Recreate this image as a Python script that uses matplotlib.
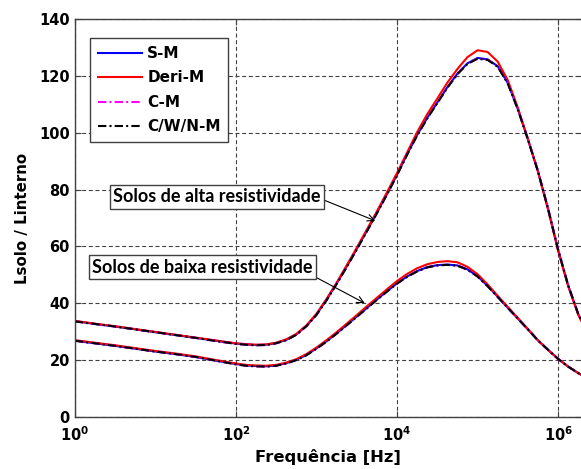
import numpy as np
import matplotlib
matplotlib.use("Agg")
import matplotlib.pyplot as plt
from matplotlib.ticker import NullLocator

plt.rcParams["font.family"] = "DejaVu Sans"
plt.rcParams["font.weight"] = "bold"
plt.rcParams["mathtext.fontset"] = "dejavusans"

# ── DONNÉES ─────────────────────────────────────────────────────────────────
log_f = [0.0, 0.25, 0.5, 0.75, 1.0, 1.25, 1.5, 1.75,
         2.0, 2.125, 2.25, 2.375, 2.5, 2.625, 2.75, 2.875,
         3.0, 3.125, 3.25, 3.375, 3.5, 3.625, 3.75, 3.875,
         4.0, 4.125, 4.25, 4.375, 4.5, 4.625, 4.75, 4.875,
         5.0, 5.125, 5.25, 5.375, 5.5, 5.625, 5.75, 5.875,
         6.0, 6.125, 6.25, 6.375, 6.5]
freq = 10.0 ** np.array(log_f)

# solos de alta resistividade
alta_sm   = [33.7, 32.7, 31.8, 30.8, 29.8, 28.8, 27.8, 26.8,
             25.8, 25.5, 25.3, 25.4, 26.0, 27.1, 29.0, 32.0,
             36.0, 41.2, 46.9, 52.9, 59.1, 65.4, 71.8, 78.4,
             85.2, 92.4, 99.2, 105.2, 110.6, 116.0, 120.8, 124.4,
             126.3, 125.8, 123.4, 117.5, 108.3, 97.7, 86.4, 73.2,
             58.7, 46.2, 36.1, 29.0, 24.0]
alta_deri = [33.8, 32.8, 31.9, 30.9, 29.9, 28.9, 27.9, 26.9,
             25.9, 25.6, 25.4, 25.5, 26.1, 27.3, 29.2, 32.2,
             36.3, 41.5, 47.2, 53.3, 59.5, 65.9, 72.3, 79.0,
             85.8, 93.0, 100.2, 106.5, 112.0, 117.6, 122.4, 126.6,
             129.0, 128.4, 125.0, 118.5, 108.8, 97.8, 86.3, 73.0,
             58.5, 46.0, 36.0, 29.0, 24.0]
alta_cm   = [33.6, 32.7, 31.8, 30.8, 29.8, 28.8, 27.8, 26.7,
             25.7, 25.4, 25.2, 25.3, 25.9, 27.0, 28.9, 31.9,
             35.9, 41.1, 46.8, 52.8, 59.0, 65.3, 71.7, 78.3,
             85.1, 92.3, 99.1, 105.1, 110.5, 115.9, 120.7, 124.3,
             126.1, 125.7, 123.3, 117.5, 108.4, 97.9, 86.6, 73.5,
             59.0, 46.4, 36.3, 29.1, 24.1]
alta_cwn  = [33.6, 32.7, 31.8, 30.8, 29.8, 28.8, 27.8, 26.7,
             25.7, 25.4, 25.2, 25.3, 25.9, 27.0, 28.9, 31.9,
             35.9, 41.0, 46.7, 52.7, 58.9, 65.2, 71.6, 78.2,
             85.0, 92.2, 99.0, 105.0, 110.4, 115.8, 120.6, 124.2,
             126.0, 125.6, 123.2, 117.3, 108.2, 97.6, 86.4, 73.3,
             58.8, 46.3, 36.2, 29.1, 24.1]

# solos de baixa resistividade
baixa_sm   = [26.8, 25.9, 25.0, 24.0, 23.0, 22.1, 21.1, 19.8,
              18.6, 18.1, 17.9, 17.8, 18.1, 18.9, 20.1, 21.8,
              24.1, 26.6, 29.4, 32.3, 35.3, 38.3, 41.3, 44.2,
              47.0, 49.4, 51.3, 52.7, 53.4, 53.6, 53.3, 51.9,
              49.5, 46.1, 42.3, 38.4, 34.6, 30.8, 26.9, 23.6,
              20.4, 17.7, 15.4, 13.4, 11.8]
baixa_deri = [27.0, 26.1, 25.2, 24.2, 23.2, 22.3, 21.3, 20.0,
              18.8, 18.3, 18.1, 18.0, 18.3, 19.1, 20.3, 22.1,
              24.4, 27.0, 29.8, 32.8, 35.8, 38.9, 41.9, 44.9,
              47.8, 50.3, 52.3, 53.7, 54.5, 54.8, 54.4, 52.8,
              50.2, 46.6, 42.6, 38.7, 34.8, 30.9, 27.0, 23.6,
              20.4, 17.7, 15.4, 13.4, 11.8]
baixa_cm   = [26.8, 25.9, 25.0, 24.0, 23.0, 22.1, 21.1, 19.8,
              18.5, 18.0, 17.8, 17.7, 18.0, 18.8, 20.0, 21.7,
              24.0, 26.5, 29.3, 32.2, 35.2, 38.2, 41.2, 44.1,
              46.9, 49.3, 51.2, 52.6, 53.3, 53.5, 53.2, 51.8,
              49.4, 46.0, 42.2, 38.4, 34.6, 30.8, 26.9, 23.6,
              20.4, 17.7, 15.4, 13.4, 11.8]
baixa_cwn  = [26.8, 25.9, 25.0, 24.0, 23.0, 22.1, 21.1, 19.8,
              18.5, 18.0, 17.8, 17.7, 18.0, 18.8, 20.0, 21.7,
              24.0, 26.5, 29.3, 32.2, 35.2, 38.2, 41.2, 44.1,
              46.9, 49.3, 51.2, 52.6, 53.3, 53.5, 53.2, 51.8,
              49.4, 46.0, 42.2, 38.4, 34.6, 30.8, 26.9, 23.6,
              20.4, 17.7, 15.4, 13.4, 11.8]

labels = ["S-M", "Deri-M", "C-M", "C/W/N-M"]
x_ticks = [1e0, 1e2, 1e4, 1e6]
x_ticklabels = [r"$\mathbf{10^{0}}$", r"$\mathbf{10^{2}}$", r"$\mathbf{10^{4}}$", r"$\mathbf{10^{6}}$"]
y_ticks = [0, 20, 40, 60, 80, 100, 120, 140]

# ── FIGURE ──────────────────────────────────────────────────────────────────
fig = plt.figure(figsize=(5.81, 4.69), dpi=100, facecolor="white")
ax = fig.add_axes([74.8 / 581, 52.1 / 469, 507.2 / 581, 397.9 / 469])

dashdot = (0, (4, 1.5, 1, 1.5))
styles = [dict(color="#0000ff", ls="-"),
          dict(color="#ff0000", ls="-"),
          dict(color="#ff00ff", ls=dashdot),
          dict(color="black", ls=dashdot)]

for series, st, lab in zip([alta_sm, alta_deri, alta_cm, alta_cwn], styles, labels):
    ax.plot(freq, series, lw=1.5, label=lab, **st)
for series, st in zip([baixa_sm, baixa_deri, baixa_cm, baixa_cwn], styles):
    ax.plot(freq, series, lw=1.5, **st)

ax.set_xscale("log")
ax.set_xlim(1, 10 ** (507.2 / 80.55))
ax.set_ylim(0, 140)
ax.set_xticks(x_ticks)
ax.set_xticklabels(x_ticklabels)
ax.xaxis.set_minor_locator(NullLocator())
ax.set_yticks(y_ticks)

ax.grid(True, color="#404040", lw=0.8, ls=(0, (3.6, 2.4)))
ax.tick_params(direction="in", length=4, width=0.8, color="#404040",
               labelsize=10.5, top=True, right=True)
ax.tick_params(axis="x", pad=6)
ax.tick_params(axis="y", pad=3.5)
for sp in ax.spines.values():
    sp.set_color("#404040")
    sp.set_linewidth(1)

ax.set_xlabel("Frequência [Hz]", fontsize=11.8, fontweight="bold", labelpad=4)
ax.set_ylabel("Lsolo / Linterno", fontsize=10.8, fontweight="bold")
ax.yaxis.set_label_coords(-0.088, 0.5)

leg = ax.legend(loc="upper left", bbox_to_anchor=(0.03, 0.9515), borderaxespad=0,
                fancybox=False, edgecolor="#404040", fontsize=11, framealpha=1,
                handlelength=2.9, handletextpad=0.35, labelspacing=0.62, borderpad=0.5)
leg.get_frame().set_linewidth(1)
for t in leg.get_texts():
    t.set_fontweight("bold")

# ── ANNOTATIONS ─────────────────────────────────────────────────────────────
box = dict(boxstyle="square,pad=0.18", fc="white", ec="#404040", lw=1)
ax.annotate("Solos de alta resistividade", xy=(10 ** 3.73, 69), xytext=(10 ** 1.76, 77.4),
            ha="center", va="center", fontsize=13, fontweight="bold",
            family=["Lato", "DejaVu Sans"], bbox=box,
            arrowprops=dict(arrowstyle="->", color="black", lw=0.8, shrinkA=0, shrinkB=0,
                            relpos=(1, 0.4), mutation_scale=12))
ax.annotate("Solos de baixa resistividade", xy=(10 ** 3.6, 40), xytext=(10 ** 1.585, 52.7),
            ha="center", va="center", fontsize=13, fontweight="bold",
            family=["Lato", "DejaVu Sans"], bbox=box,
            arrowprops=dict(arrowstyle="->", color="black", lw=0.8, shrinkA=0, shrinkB=0,
                            relpos=(1, 0), mutation_scale=12))

fig.savefig("out.png", dpi=100, facecolor=fig.get_facecolor())
plt.close(fig)
